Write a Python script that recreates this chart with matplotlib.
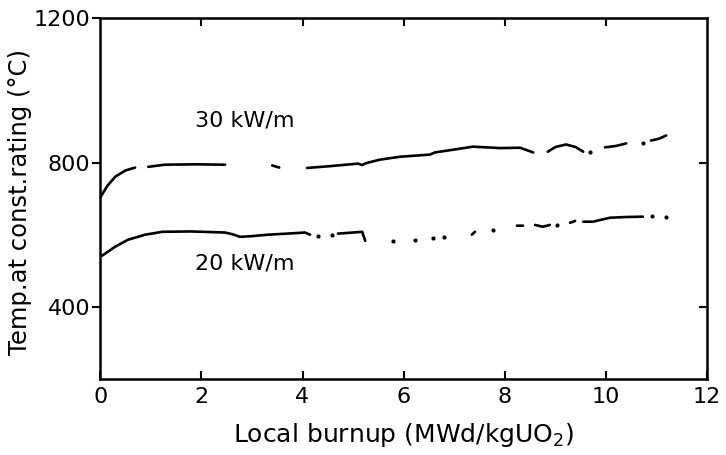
import numpy as np
import matplotlib
matplotlib.use("Agg")
import matplotlib.pyplot as plt

nan = np.nan

# 30 kW/m curve (NaN = gap in the drawn line)
x30 = [0.0, 0.14, 0.30, 0.50, 0.69, nan, 0.95, 1.28, 1.90, 2.47, nan, 3.40, 3.54, nan,
       4.09, 4.55, 5.10, 5.18, 5.25, 5.53, 5.93, 6.52, 6.62, 7.00, 7.37, 7.91, 8.30, 8.56, nan,
       8.85, 9.00, 9.21, 9.40, 9.55, nan, 9.98, 10.20, 10.40, nan, 10.89, 11.05, 11.19]
y30 = [703, 735, 761, 778, 786, nan, 788, 794, 795, 794, nan, 792, 786, nan,
       785, 790, 797, 793, 798, 808, 816, 822, 828, 836, 844, 840, 841, 828, nan,
       830, 843, 850, 843, 830, nan, 842, 846, 853, nan, 861, 866, 875]
dots30_x = [9.68, 10.73]
dots30_y = [830, 853]

# 20 kW/m curve
x20 = [0.04, 0.30, 0.55, 0.89, 1.23, 1.80, 2.47, 2.62, 2.77, 3.00, 3.32, 3.70, 4.05, 4.15, nan,
       4.70, 5.00, 5.18, 5.24, nan, 7.35, 7.41, nan, 8.24, 8.36, nan, 8.60, 8.75, 8.89, nan,
       9.29, 9.39, nan, 9.55, 9.74, 10.08, 10.40, 10.73]
y20 = [542, 567, 586, 600, 608, 609, 606, 601, 594, 596, 600, 603, 606, 600, nan,
       603, 606, 608, 583, nan, 600, 608, nan, 625, 625, nan, 627, 622, 627, nan,
       633, 638, nan, 636, 636, 647, 649, 650]
dots20_x = [4.31, 4.58, 5.79, 6.23, 6.58, 6.80, 7.77, 9.03, 10.91, 11.19]
dots20_y = [597, 600, 583, 586, 592, 594, 614, 628, 653, 650]

xticks = [0, 2, 4, 6, 8, 10, 12]
yticks = [400, 800, 1200]

plt.rcParams['font.family'] = ['DejaVu Sans']

fig = plt.figure(figsize=(7.26, 4.55), dpi=100)
ax = fig.add_axes([0.138, 0.167, 0.836, 0.793])

ax.plot(x30, y30, color='black', lw=1.9, solid_capstyle='round')
ax.plot(dots30_x, dots30_y, 'o', color='black', ms=2)
ax.plot(x20, y20, color='black', lw=1.9, solid_capstyle='round')
ax.plot(dots20_x, dots20_y, 'o', color='black', ms=2)

ax.text(1.88, 917, '30 kW/m', fontsize=16, va='center', ha='left')
ax.text(1.88, 519, '20 kW/m', fontsize=16, va='center', ha='left')

ax.set_xlim(0, 12)
ax.set_ylim(200, 1200)
ax.set_xticks(xticks)
ax.set_yticks(yticks)
ax.tick_params(axis='x', direction='in', length=6, width=1.5, labelsize=16, pad=6)
ax.tick_params(axis='y', direction='out', length=6, width=1.5, labelsize=16, pad=1)
for s in ax.spines.values():
    s.set_linewidth(1.8)

top = ax.secondary_xaxis('top')
top.set_xticks(xticks[1:-1])
top.tick_params(direction='in', length=6, width=1.5, labeltop=False)
right = ax.secondary_yaxis('right')
right.set_yticks([400, 800])
right.tick_params(direction='in', length=6, width=1.5, labelright=False)

ax.set_xlabel('Local burnup (MWd/kgUO$_2$)', fontsize=18, labelpad=10)
ax.set_ylabel('Temp.at const.rating (°C)', fontsize=17.5)
ax.yaxis.set_label_coords(-0.112, 0.49)

fig.savefig('out.png', dpi=100)
